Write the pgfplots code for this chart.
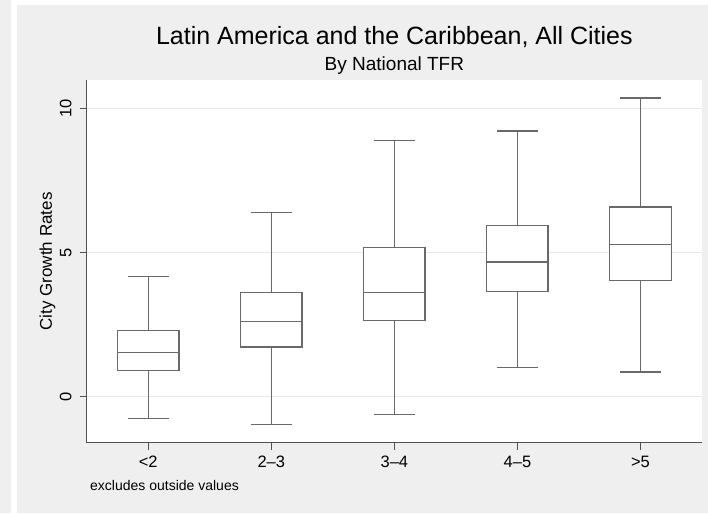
\documentclass[border=0pt]{standalone}
\usepackage{fontspec}
\setmainfont{Liberation Sans}
\usepackage{pgfplots}
\pgfplotsset{compat=1.18}
\usepgfplotslibrary{statistics}
\definecolor{bggray}{RGB}{239,239,239}
\definecolor{gridgray}{RGB}{232,232,232}
\definecolor{boxcol}{RGB}{105,105,105}
\definecolor{axiscol}{RGB}{80,80,80}
\begin{document}
\begin{tikzpicture}[x=1pt,y=1pt]
\useasboundingbox (0,0) rectangle (708,513);
\fill[white] (0,0) rectangle (708,513);
\fill[bggray] (0,0) rectangle (10.5,513);
\fill[bggray] (16.5,0) rectangle (708,508);
\begin{axis}[
  at={(86.7pt,70.3pt)}, anchor=south west,
  scale only axis, width=615.3pt, height=362.7pt,
  xmin=-0.5, xmax=4.5, ymin=-1.595, ymax=10.98,
  axis background/.style={fill=white},
  axis x line*=bottom, axis y line*=left,
  axis line style={draw=axiscol, line width=1.1pt},
  tick align=outside, major tick length=7pt,
  tick style={draw=axiscol, line width=1pt},
  xtick={0,1,2,3,4},
  xticklabels={{<2},{2--3},{3--4},{4--5},{>5}},
  ytick={0,5,10}, yticklabels={0,5,10},
  ymajorgrids, grid style={draw=gridgray, line width=1pt},
  xticklabel style={font=\fontsize{16.5}{18}\selectfont, anchor=base, inner sep=0pt},
  yticklabel style={font=\fontsize{16.5}{18}\selectfont, rotate=90, anchor=south, inner sep=0pt},
  xticklabel shift=18pt, yticklabel shift=8pt,
  clip=false,
  boxplot/draw direction=y,
  boxst/.style={draw=boxcol, fill=white, line width=1.45pt, solid, mark=none},
]
\addplot[boxst, boxplot prepared={draw position=0, lower whisker=-0.76, lower quartile=0.915, median=1.53, upper quartile=2.30, upper whisker=4.17, box extend=0.5, whisker extend=0.333}] coordinates {};
\addplot[boxst, boxplot prepared={draw position=1, lower whisker=-0.97, lower quartile=1.72, median=2.60, upper quartile=3.62, upper whisker=6.39, box extend=0.5, whisker extend=0.333}] coordinates {};
\addplot[boxst, boxplot prepared={draw position=2, lower whisker=-0.61, lower quartile=2.64, median=3.61, upper quartile=5.18, upper whisker=8.89, box extend=0.5, whisker extend=0.333}] coordinates {};
\addplot[boxst, boxplot prepared={draw position=3, lower whisker=1.02, lower quartile=3.65, median=4.67, upper quartile=5.93, upper whisker=9.21, box extend=0.5, whisker extend=0.333}] coordinates {};
\addplot[boxst, boxplot prepared={draw position=4, lower whisker=0.86, lower quartile=4.02, median=5.28, upper quartile=6.57, upper whisker=10.35, box extend=0.5, whisker extend=0.333}] coordinates {};
\end{axis}
\node[anchor=base, inner sep=0pt, font=\fontsize{25}{30}\selectfont] at (394.4,468) {Latin America and the Caribbean, All Cities};
\node[anchor=base, inner sep=0pt, font=\fontsize{19}{22}\selectfont] at (394.4,442.3) {By National TFR};
\node[anchor=base, inner sep=0pt, rotate=90, font=\fontsize{17}{20}\selectfont] at (51.8,251.6) {City Growth Rates};
\node[anchor=base west, inner sep=0pt, font=\fontsize{14}{16}\selectfont] at (90,23) {excludes outside values};
\end{tikzpicture}
\end{document}
